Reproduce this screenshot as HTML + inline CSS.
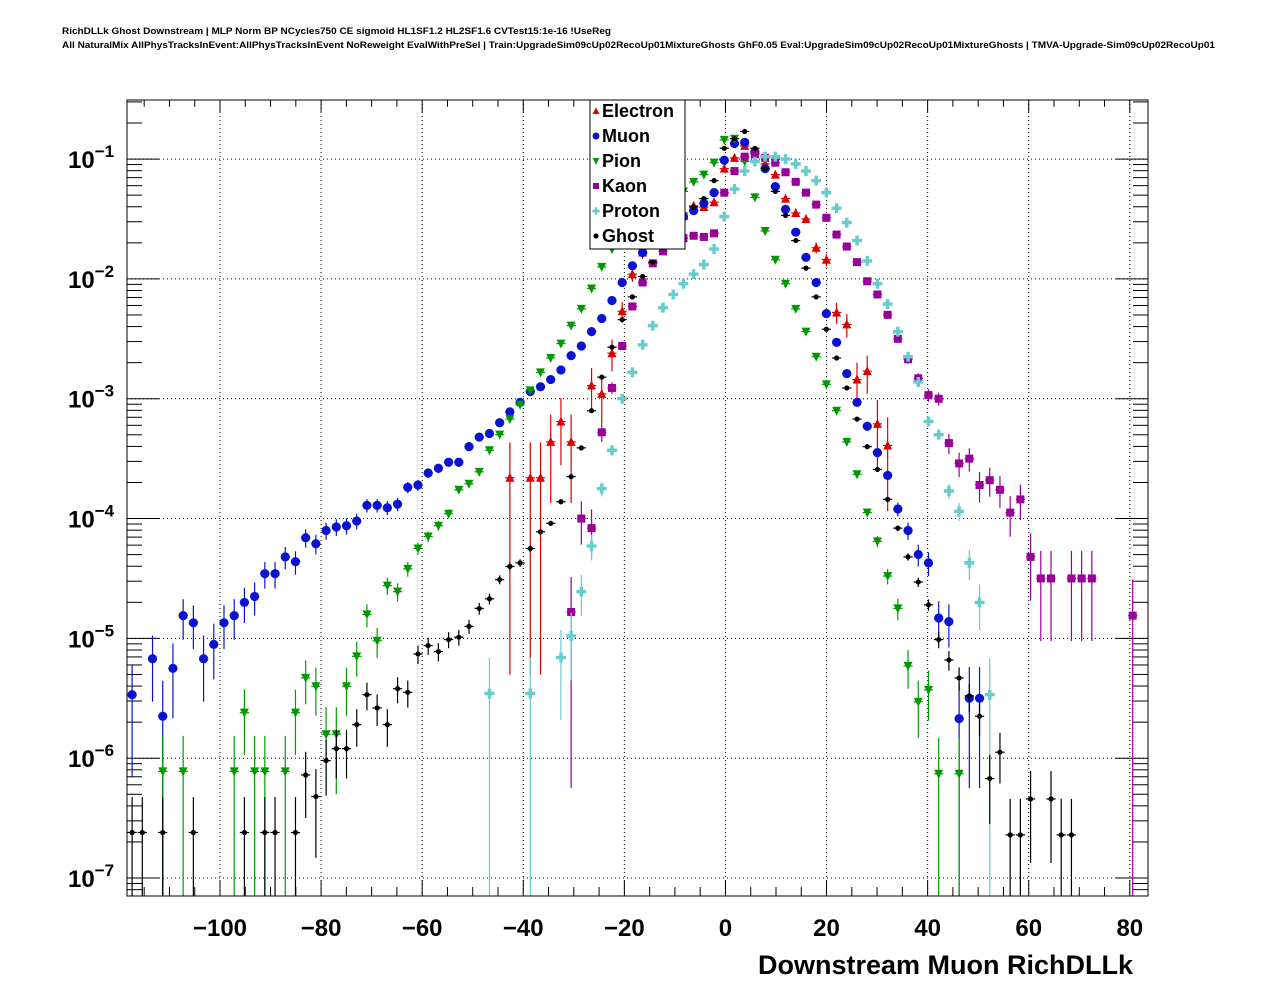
<!DOCTYPE html>
<html><head><meta charset="utf-8"><style>
html,body{margin:0;padding:0;background:#fff;}
svg{display:block;font-family:"Liberation Sans",Arial,sans-serif;}
</style></head><body>
<svg id="chart" width="1276" height="996" viewBox="0 0 1276 996" xmlns="http://www.w3.org/2000/svg">
<rect x="0" y="0" width="1276" height="996" fill="#fff"/>
<text x="62" y="34" font-size="9.5" font-weight="bold" textLength="549" lengthAdjust="spacingAndGlyphs">RichDLLk Ghost Downstream | MLP Norm BP NCycles750 CE sigmoid HL1SF1.2 HL2SF1.6 CVTest15:1e-16 !UseReg</text>
<text x="62" y="48" font-size="9.5" font-weight="bold" textLength="1153" lengthAdjust="spacingAndGlyphs">All NaturalMix AllPhysTracksInEvent:AllPhysTracksInEvent NoReweight EvalWithPreSel | Train:UpgradeSim09cUp02RecoUp01MixtureGhosts GhF0.05 Eval:UpgradeSim09cUp02RecoUp01MixtureGhosts | TMVA-Upgrade-Sim09cUp02RecoUp01</text>
<g id="grid"></g>
<g id="axes"></g>
<g id="series"></g>
<rect x="127" y="100" width="1021" height="796" fill="none" stroke="#000" stroke-width="1"/>
<text x="1133" y="974" font-size="27" font-weight="bold" text-anchor="end">Downstream Muon RichDLLk</text>
<g id="legend"></g>
</svg>
<script>
// ---- axis definition ----
const binLow = -118.4, binWidth = 2.02, nBins = 100;
const xMin = -118.4, xMax = 83.6;
const logMin = -7.15, logMax = -0.507;
const xTickValues = [-100, -80, -60, -40, -20, 0, 20, 40, 60, 80];
const xTickLabels = ["\u2212100", "\u221280", "\u221260", "\u221240", "\u221220", "0", "20", "40", "60", "80"];
const yTickExps = [-1, -2, -3, -4, -5, -6, -7];
const yTickLabels = ["\u22121", "\u22122", "\u22123", "\u22124", "\u22125", "\u22126", "\u22127"];

// ---- data (bin index, log10 of normalised entries) ----
const electronBins = [37,39,40,41,42,43,45,46,47,48,49,50,51,52,53,54,55,56,57,58,59,60,61,62,63,64,65,66,67,68,69,70,71,72,73,74];
const electronLog = [-3.66,-3.66,-3.66,-3.36,-3.19,-3.36,-2.89,-2.96,-2.62,-2.27,-1.96,-1.78,-1.68,-1.60,-1.52,-1.45,-1.39,-1.40,-1.36,-1.08,-0.99,-0.89,-0.95,-1.04,-1.13,-1.33,-1.45,-1.50,-1.74,-1.84,-2.28,-2.38,-2.84,-2.77,-3.21,-3.39];
const muonBins = [0,2,3,4,5,6,7,8,9,10,11,12,13,14,15,16,17,18,19,20,21,22,23,24,25,26,27,28,29,30,31,32,33,34,35,36,37,38,39,40,41,42,43,44,45,46,47,48,49,50,51,52,53,54,55,56,57,58,59,60,61,62,63,64,65,66,67,68,69,70,71,72,73,74,75,76,77,78,79,80,81,82,83];
const muonLog = [-5.47,-5.17,-5.65,-5.25,-4.81,-4.87,-5.17,-5.05,-4.87,-4.81,-4.70,-4.65,-4.46,-4.46,-4.32,-4.36,-4.16,-4.21,-4.10,-4.07,-4.06,-4.02,-3.89,-3.89,-3.91,-3.88,-3.74,-3.72,-3.62,-3.58,-3.53,-3.53,-3.40,-3.32,-3.29,-3.20,-3.11,-3.03,-2.94,-2.90,-2.84,-2.76,-2.64,-2.56,-2.44,-2.33,-2.18,-2.03,-1.89,-1.78,-1.68,-1.60,-1.53,-1.48,-1.43,-1.37,-1.28,-1.01,-0.87,-0.86,-0.94,-1.08,-1.23,-1.42,-1.61,-1.82,-2.03,-2.29,-2.53,-2.79,-3.03,-3.23,-3.45,-3.64,-3.92,-4.10,-4.30,-4.37,-4.83,-4.86,-5.67,-5.50,-5.50];
const pionBins = [3,5,10,11,12,13,15,16,17,18,19,20,21,22,23,24,25,26,27,28,29,30,31,32,33,34,35,36,37,38,39,40,41,42,43,44,45,46,47,48,49,50,51,52,53,54,55,56,57,58,59,60,61,62,63,64,65,66,67,68,69,70,71,72,73,74,75,76,77,78,79,81];
const pionLog = [-6.11,-6.11,-6.11,-5.62,-6.11,-6.11,-6.11,-5.62,-5.33,-5.40,-5.80,-5.80,-5.40,-5.15,-4.80,-5.02,-4.56,-4.61,-4.42,-4.25,-4.15,-4.06,-3.96,-3.76,-3.71,-3.61,-3.43,-3.30,-3.17,-3.05,-2.93,-2.78,-2.66,-2.54,-2.39,-2.25,-2.08,-1.90,-1.75,-1.62,-1.52,-1.44,-1.38,-1.34,-1.30,-1.27,-1.19,-1.13,-1.03,-0.84,-0.83,-1.02,-1.32,-1.60,-1.84,-2.04,-2.25,-2.44,-2.65,-2.88,-3.10,-3.36,-3.63,-3.95,-4.19,-4.48,-4.75,-5.23,-5.53,-5.43,-6.13,-6.13];
const kaonBins = [43,44,45,46,47,48,49,50,51,52,53,54,55,56,57,58,59,60,61,62,63,64,65,66,67,68,69,70,71,72,73,74,75,76,77,78,79,80,81,82,83,84,85,86,87,88,89,90,92,93,94,98];
const kaonLog = [-4.78,-4.00,-4.08,-3.28,-2.91,-2.56,-2.23,-2.03,-1.87,-1.77,-1.70,-1.66,-1.64,-1.65,-1.62,-1.28,-1.10,-0.98,-0.96,-0.99,-1.03,-1.11,-1.19,-1.28,-1.38,-1.49,-1.63,-1.73,-1.86,-2.02,-2.13,-2.30,-2.50,-2.67,-2.83,-2.97,-3.00,-3.37,-3.54,-3.50,-3.72,-3.68,-3.76,-3.95,-3.84,-4.32,-4.50,-4.50,-4.50,-4.50,-4.50,-4.81];
const protonBins = [35,39,42,43,44,45,46,47,48,49,50,51,52,53,54,55,56,57,58,59,60,61,62,63,64,65,66,67,68,69,70,71,72,73,74,75,76,77,78,79,80,81,82,83,84];
const protonLog = [-5.46,-5.46,-5.16,-4.98,-4.61,-4.23,-3.75,-3.43,-3.00,-2.78,-2.55,-2.39,-2.24,-2.13,-2.04,-1.96,-1.88,-1.75,-1.48,-1.25,-1.10,-1.02,-0.98,-0.98,-1.00,-1.04,-1.10,-1.18,-1.28,-1.41,-1.53,-1.68,-1.85,-2.04,-2.21,-2.44,-2.65,-2.86,-3.19,-3.30,-3.77,-3.94,-4.37,-4.70,-5.47];
const ghostBins = [0,1,3,6,11,13,14,16,17,18,19,20,21,22,23,24,25,26,27,28,29,30,31,32,33,34,35,36,37,38,39,40,41,42,43,44,45,46,47,48,49,50,51,52,53,54,55,56,57,58,59,60,61,62,63,64,65,66,67,68,69,70,71,72,73,74,75,76,77,78,79,80,81,82,83,84,85,86,87,88,90,91,92];
const ghostLog = [-6.62,-6.62,-6.62,-6.62,-6.62,-6.62,-6.62,-6.62,-6.14,-6.32,-6.02,-5.92,-5.92,-5.72,-5.47,-5.58,-5.72,-5.42,-5.45,-5.13,-5.06,-5.11,-5.01,-4.99,-4.90,-4.75,-4.67,-4.51,-4.40,-4.37,-4.25,-4.11,-4.04,-3.86,-3.65,-3.41,-3.10,-2.82,-2.57,-2.34,-2.15,-1.98,-1.86,-1.74,-1.62,-1.50,-1.40,-1.33,-1.18,-0.91,-0.83,-0.77,-0.91,-1.08,-1.27,-1.47,-1.68,-1.91,-2.15,-2.42,-2.66,-2.91,-3.17,-3.40,-3.59,-3.84,-4.08,-4.32,-4.53,-4.72,-5.01,-5.18,-5.33,-5.48,-5.65,-6.17,-5.95,-6.64,-6.64,-6.34,-6.34,-6.64,-6.64];
// single-entry weight (log10) per species, used for Poisson error bars
const weightLog = {electron:-3.68, muon:-5.67, pion:-6.13, kaon:-4.81, proton:-5.47, ghost:-6.64};

// ---- geometry ----
const PX0 = 127, PX1 = 1148, PY0 = 100, PY1 = 896;
function sx(x){ return PX0 + (x - xMin) / (xMax - xMin) * (PX1 - PX0); }
function sy(l){ return PY0 + (logMax - l) / (logMax - logMin) * (PY1 - PY0); }
function binCenter(i){ return binLow + binWidth * (i + 0.5); }
const NS = "http://www.w3.org/2000/svg";
function mk(tag, attrs, parent){
  const e = document.createElementNS(NS, tag);
  for (const k in attrs) e.setAttribute(k, attrs[k]);
  parent.appendChild(e); return e;
}
const gGrid = document.getElementById('grid');
const gAxes = document.getElementById('axes');
const gSer = document.getElementById('series');
const gLeg = document.getElementById('legend');

// grid + x ticks
for (let k = 0; k < xTickValues.length; k++){
  const X = sx(xTickValues[k]);
  const gl = mk('line', {x1:X, x2:X, y1:PY0, y2:PY1, stroke:'#000', 'stroke-width':1, 'stroke-dasharray':'1,3'}, gGrid);
  
  
  const t = mk('text', {x:X, y:936, 'font-size':24, 'font-weight':'bold', 'text-anchor':'middle'}, gAxes);
  t.textContent = xTickLabels[k];
  
  
}
for (let v = -115; v <= 80; v += 5){
  const X = sx(v); const major = (v % 20 === 0);
  const len = major ? 16 : 9;
  mk('line', {x1:X, x2:X, y1:PY1, y2:PY1-len, stroke:'#000', 'stroke-width':1}, gAxes);
  mk('line', {x1:X, x2:X, y1:PY0, y2:PY0+len*0.75, stroke:'#000', 'stroke-width':1}, gAxes);
}
// y grid + ticks
for (let k = 0; k < yTickExps.length; k++){
  const Y = sy(yTickExps[k]);
  const gl = mk('line', {x1:PX0, x2:PX1, y1:Y, y2:Y, stroke:'#000', 'stroke-width':1, 'stroke-dasharray':'1,3'}, gGrid);
  
  
  const t = mk('text', {x:68, y:Y+9, 'font-size':24, 'font-weight':'bold'}, gAxes);
  
  
  t.textContent = '10';
  const s = mk('tspan', {dy:-11, 'font-size':17}, t);
  s.textContent = yTickLabels[k];
}
for (let d = -8; d <= -1; d++){
  for (let m = 1; m <= 9; m++){
    const l = d + Math.log10(m);
    if (l < logMin || l > logMax) continue;
    const Y = sy(l); const len = m === 1 ? 32 : 15;
    mk('line', {x1:PX0, x2:PX0+len, y1:Y, y2:Y, stroke:'#000', 'stroke-width':1}, gAxes);
    mk('line', {x1:PX1, x2:PX1-len, y1:Y, y2:Y, stroke:'#000', 'stroke-width':1}, gAxes);
  }
}

// ---- markers ----
function marker(kind, X, Y, color, parent){
  if (kind === 'tri-up') return mk('polygon', {points:`${X-4.5},${Y+4} ${X+4.5},${Y+4} ${X},${Y-5}`, fill:color}, parent);
  if (kind === 'tri-down') return mk('polygon', {points:`${X-4.5},${Y-4} ${X+4.5},${Y-4} ${X},${Y+5}`, fill:color}, parent);
  if (kind === 'circle') return mk('circle', {cx:X, cy:Y, r:4.6, fill:color}, parent);
  if (kind === 'square') return mk('rect', {x:X-4, y:Y-4, width:8, height:8, fill:color}, parent);
  if (kind === 'cross') return mk('path', {d:`M${X-5},${Y-1.7}h3.3v-3.3h3.4v3.3h3.3v3.4h-3.3v3.3h-3.4v-3.3h-3.3z`, fill:color}, parent);
  return mk('circle', {cx:X, cy:Y, r:2.6, fill:color}, parent);
}
const seriesDefs = [
  {name:'electron', label:'Electron', bins:electronBins, vals:electronLog, color:'#dd0000', kind:'tri-up'},
  {name:'muon', label:'Muon', bins:muonBins, vals:muonLog, color:'#0a14d0', kind:'circle'},
  {name:'pion', label:'Pion', bins:pionBins, vals:pionLog, color:'#009a00', kind:'tri-down'},
  {name:'kaon', label:'Kaon', bins:kaonBins, vals:kaonLog, color:'#990099', kind:'square'},
  {name:'proton', label:'Proton', bins:protonBins, vals:protonLog, color:'#66cccc', kind:'cross'},
  {name:'ghost', label:'Ghost', bins:ghostBins, vals:ghostLog, color:'#000000', kind:'dot'}
];
for (const s of seriesDefs){
  const g = mk('g', {}, gSer);
  
  
  const w = Math.pow(10, weightLog[s.name]);
  for (let k = 0; k < s.bins.length; k++){
    const xc = binCenter(s.bins[k]); const l = s.vals[k];
    const v = Math.pow(10, l); const rel = Math.sqrt(w / v);
    const hi = Math.min(Math.log10(v * (1 + rel)), logMax);
    const loV = v * (1 - rel);
    const lo = loV <= Math.pow(10, logMin) ? logMin : Math.log10(loV);
    const X = sx(xc), Y = sy(l);
    const hw = (sx(binWidth) - sx(0)) / 2 - 0.5;
    mk('line', {x1:X, x2:X, y1:sy(hi), y2:sy(lo), stroke:s.color, 'stroke-width':1.2}, g);
    mk('line', {x1:X-hw, x2:X+hw, y1:Y, y2:Y, stroke:s.color, 'stroke-width':1.2}, g);
    const m = marker(s.kind, X, Y, s.color, g);
    
    
  }
}

// ---- legend ----
const lb = mk('rect', {x:590, y:100, width:95, height:149, fill:'#fff', stroke:'#000', 'stroke-width':1}, gLeg);


seriesDefs.forEach((s, k) => {
  const Y = 111 + 25 * k;
  const e = mk('g', {}, gLeg);
  
  
  const sc = s.kind === 'dot' ? 1 : 0.75;
  const m = marker(s.kind, 0, 0, s.color, e);
  m.setAttribute('transform', `translate(596,${Y}) scale(${sc})`);
  const t = mk('text', {x:602, y:Y+6, 'font-size':18, 'font-weight':'bold'}, e);
  t.textContent = s.label;
});
</script>
</body></html>
